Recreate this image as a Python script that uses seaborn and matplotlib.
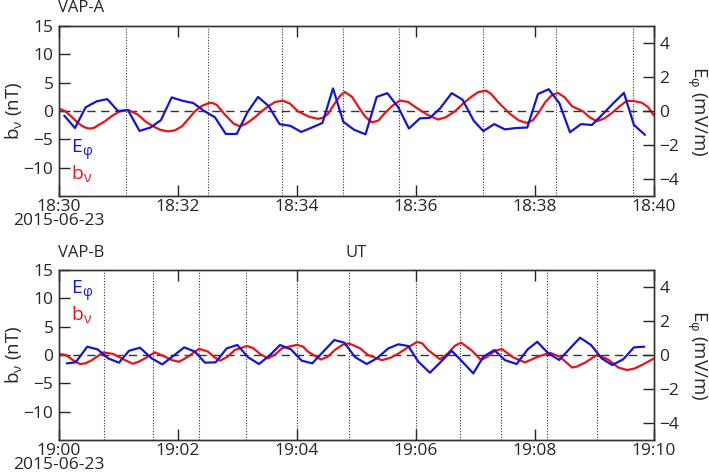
import matplotlib
matplotlib.use("Agg")
import matplotlib.pyplot as plt
import seaborn as sns

# VAP-A, seconds after 18:30 UT
a_e_time = [5.3, 16.1, 26.9, 38.0, 48.7, 59.5, 69.6, 81.2, 92.3, 102.9, 113.6, 124.7,
            135.4, 146.5, 157.3, 168.2, 179.2, 190.1, 200.7, 211.3, 222.4, 233.2, 244.3,
            255.1, 265.7, 276.3, 286.7, 297.5, 309.1, 320.4, 331.1, 342.1, 352.9, 364.0,
            374.1, 384.2, 396.0, 406.9, 418.2, 427.9, 438.9, 449.7, 460.8, 472.2, 483.0,
            493.8, 504.5, 515.3, 526.4, 537.5, 548.6, 559.2, 569.7, 579.8, 590.9]
a_e_mvm = [-0.27, -1.0, 0.22, 0.57, 0.7, 0.0, 0.05, -1.17, -0.97, -0.53, 0.8, 0.6,
           0.47, 0.0, -0.37, -1.35, -1.35, -0.07, 0.83, 0.3, -0.77, -0.87, -1.23,
           -0.97, -0.7, 1.33, -0.63, -1.1, -1.37, 0.83, 1.05, 0.22, -1.03, -0.43,
           -0.4, 0.15, 1.05, 0.67, -0.57, -1.18, -0.77, -1.08, -1.0, -0.97, 1.0,
           1.28, 0.47, -1.25, -0.77, -0.82, -0.17, 0.47, 1.07, -0.82, -1.4]
a_b_time = [0.0, 6.1, 12.0, 19.2, 23.0, 27.0, 31.3, 35.5, 39.6, 46.4, 54.0, 61.5, 69.6,
            79.7, 87.0, 93.8, 102.0, 109.9, 117.0, 124.0, 130.0, 137.1, 144.0, 150.3,
            154.3, 159.0, 167.4, 176.0, 182.5, 189.0, 197.6, 204.0, 210.8, 218.0, 225.9,
            233.0, 241.0, 252.0, 261.2, 266.0, 271.3, 278.3, 284.0, 288.4, 295.5, 302.5,
            308.6, 315.6, 322.0, 328.7, 336.0, 343.9, 352.0, 361.0, 372.0, 382.2, 390.0,
            399.3, 408.0, 416.5, 423.0, 430.6, 436.0, 442.7, 454.8, 464.0, 471.9, 478.0,
            484.0, 490.1, 497.0, 503.2, 510.0, 517.3, 528.4, 535.0, 542.5, 550.0, 557.6,
            565.0, 572.7, 580.0, 587.9, 594.0, 600.0]
a_b_nt = [0.45, 0.0, -0.9, -2.1, -2.6, -2.95, -3.1, -2.95, -2.5, -1.8, -0.8, -0.05, 0.2,
          -0.65, -1.8, -2.6, -3.3, -3.6, -3.4, -2.7, -1.5, -0.05, 0.9, 1.35,
          1.45, 1.1, -0.65, -2.2, -2.7, -2.2, -1.1, -0.1, 0.8, 1.6, 1.82,
          1.3, -0.05, -1.0, -1.38, -1.2, -0.5, 1.4, 2.8, 3.35, 2.5, 0.6,
          -0.95, -2.0, -1.7, -0.35, 0.9, 1.85, 1.6, 0.5, -0.7, -1.5, -1.1,
          -0.05, 1.4, 2.6, 3.35, 3.6, 3.0, 1.6, -0.5, -1.7, -2.1, -1.6,
          -0.2, 1.5, 2.8, 3.2, 2.4, 0.85, -0.05, -1.1, -1.8, -1.3, -0.35,
          0.8, 1.82, 1.75, 1.45, 0.7, -0.8]
a_marks = [67.6, 150.0, 225.0, 286.8, 342.6, 427.2, 501.6, 578.4]
a_ticklabels = ["18:30\n2015-06-23", "18:32", "18:34", "18:36", "18:38", "18:40"]

# VAP-B, seconds after 19:00 UT
b_e_time = [7.8, 16.8, 28.5, 39.0, 49.7, 60.5, 70.6, 81.7, 93.5, 104.2, 115.3, 126.3,
            137.1, 147.2, 158.0, 169.1, 179.8, 190.9, 201.7, 212.8, 222.9, 234.0, 244.7,
            255.4, 266.5, 277.6, 287.7, 298.5, 310.3, 320.4, 332.1, 342.2, 352.2, 362.3,
            374.1, 385.2, 396.0, 406.7, 417.8, 427.9, 439.0, 449.7, 461.5, 472.6, 482.3,
            493.4, 504.5, 515.3, 525.4, 536.5, 547.3, 558.0, 569.0, 579.8, 590.2]
b_e_mvm = [-0.49, -0.43, 0.49, 0.33, -0.2, -0.45, 0.25, 0.43, -0.2, -0.55, -0.05, 0.45,
           0.2, -0.45, -0.43, 0.39, 0.59, -0.14, -0.53, 0.0, 0.59, 0.33, -0.33,
           -0.49, 0.2, 0.88, 0.73, -0.12, -0.53, -0.2, 0.39, 0.63, 0.53, -0.39,
           -1.04, -0.39, 0.25, -0.39, -1.08, -0.1, 0.29, -0.3, -0.53, 0.33, 0.78,
           0.1, -0.29, 0.39, 1.02, 0.59, -0.2, -0.59, -0.25, 0.45, 0.49]
b_b_time = [0.0, 7.1, 14.0, 21.2, 27.0, 33.3, 44.4, 54.5, 60.0, 66.6, 74.6, 80.0, 86.7,
            96.8, 106.9, 114.0, 121.0, 130.1, 141.2, 150.3, 156.0, 162.4, 170.0, 177.5,
            189.6, 196.0, 202.7, 210.8, 218.0, 224.9, 240.0, 246.0, 251.1, 264.2, 271.0,
            278.3, 286.0, 292.4, 303.5, 311.6, 325.7, 334.0, 341.8, 351.9, 361.0, 366.0,
            372.1, 384.2, 392.3, 399.0, 405.4, 416.5, 425.6, 432.0, 439.7, 446.7, 457.8,
            469.9, 483.0, 495.1, 505.2, 517.3, 522.0, 530.4, 542.5, 553.6, 564.0, 572.7,
            580.0, 587.9, 600.0]
b_b_nt = [0.2, 0.0, -0.9, -1.6, -1.45, -0.9, 0.45, 0.2, -0.3, -0.9, -1.55, -1.2, -0.6,
          0.47, -0.3, -0.9, -1.2, -0.3, 1.1, 0.6, -0.3, -1.0, -0.3, 0.9,
          1.6, 1.2, 0.2, -0.6, 0.1, 1.2, 1.8, 1.5, 0.6, -0.8, -0.3,
          0.9, 1.8, 2.05, 1.2, 0.0, -0.9, -0.5, 0.2, 1.35, 2.3, 2.1,
          0.9, -0.76, 0.3, 1.6, 2.2, 0.76, -0.88, -0.3, 0.76, 1.06, -0.4,
          -1.3, -0.3, 0.4, -0.3, -2.2, -2.05, -1.35, 0.0, -0.76, -2.2, -2.65,
          -2.4, -1.76, -0.6]
b_marks = [45.4, 94.5, 141.0, 188.4, 239.7, 292.8, 360.0, 404.7, 445.8, 492.0, 542.4]
b_ticklabels = ["19:00\n2015-06-23", "19:02", "19:04", "19:06", "19:08", "19:10"]

blue = "#1515d6"
red = "#e3161c"

sns.set_style("ticks")
plt.rcParams["font.family"] = ["Open Sans", "DejaVu Sans"]
plt.rcParams["mathtext.fontset"] = "custom"
plt.rcParams["mathtext.rm"] = "Open Sans"
plt.rcParams["mathtext.it"] = "Open Sans"

fig = plt.figure(figsize=(7.09, 4.76), dpi=100)
ax_a = fig.add_axes([0.0832, 0.5882, 0.8392, 0.3571])
ax_b = fig.add_axes([0.0832, 0.0756, 0.8392, 0.3571])

panels = [
    (ax_a, a_e_time, a_e_mvm, a_b_time, a_b_nt, a_marks, a_ticklabels),
    (ax_b, b_e_time, b_e_mvm, b_b_time, b_b_nt, b_marks, b_ticklabels),
]

for ax, et, ev, bt, bv, marks, labels in panels:
    for m in marks:
        ax.axvline(m, color="#333333", lw=0.8, ls=(0, (1, 1.5)), zorder=1)
    ax.axhline(0, color="#333333", lw=1.0, ls=(0, (6, 4)), zorder=1)
    sns.lineplot(x=bt, y=bv, ax=ax, color=red, lw=1.6, zorder=3)
    ax.set_xlim(0, 600)
    ax.set_ylim(-15, 15)
    ax.set_yticks([-10, -5, 0, 5, 10, 15])
    ax.set_xticks([0, 120, 240, 360, 480, 600])
    ax.set_xticklabels(labels)
    for t in ax.get_xticklabels():
        t.set_linespacing(0.88)
    ax.tick_params(axis="y", direction="in", length=8, width=1, labelsize=12.5, pad=4)
    ax.tick_params(axis="x", direction="in", length=8, width=1, top=True, labelsize=12.5, pad=2)
    ax.set_ylabel(r"b$_{\mathrm{ν}}$ (nT)", fontsize=13.5, va="center")
    ax.yaxis.set_label_coords(-0.077, 0.5)
    ax2 = ax.twinx()
    sns.lineplot(x=et, y=ev, ax=ax2, color=blue, lw=1.6, zorder=4)
    ax2.set_ylim(-5, 5)
    ax2.set_yticks([-4, -2, 0, 2, 4])
    ax2.tick_params(direction="in", length=8, width=1, labelsize=12.5, pad=4)
    ax2.set_ylabel(r"E$_{\mathrm{φ}}$ (mV/m)", fontsize=13.5, rotation=-90, va="center")
    ax2.yaxis.set_label_coords(1.072, 0.5)
    for a in (ax, ax2):
        for s in a.spines.values():
            s.set_color("#333333")
            s.set_linewidth(1.0)

ax_a.text(12, -6.9, r"E$_{\mathrm{φ}}$", color=blue, fontsize=14, va="center")
ax_a.text(12, -11.0, r"b$_{\mathrm{ν}}$", color=red, fontsize=14, va="center")
ax_b.text(12, 11.2, r"E$_{\mathrm{φ}}$", color=blue, fontsize=14, va="center")
ax_b.text(12, 7.1, r"b$_{\mathrm{ν}}$", color=red, fontsize=14, va="center")

fig.text(58 / 709, 1 - 8 / 476, "VAP-A", fontsize=12, va="center", ha="left")
fig.text(58 / 709, 1 - 253 / 476, "VAP-B", fontsize=12, va="center", ha="left")
fig.text(356 / 709, 1 - 253 / 476, "UT", fontsize=12, va="center", ha="center")

fig.savefig("out.png", dpi=100)
